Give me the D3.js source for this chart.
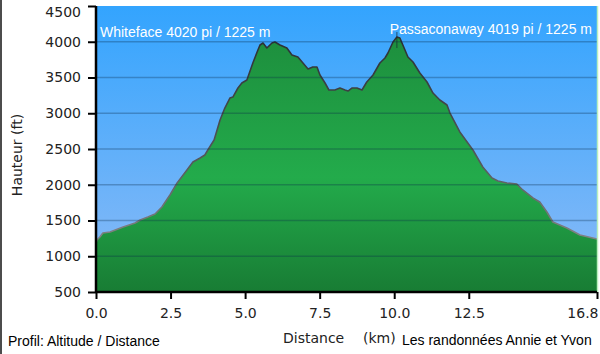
<!DOCTYPE html>
<html>
<head>
<meta charset="utf-8">
<script src="https://cdn.jsdelivr.net/npm/d3@7"></script>
<style>
  html, body { margin: 0; padding: 0; background: #fff; }
  svg { display: block; }
</style>
</head>
<body>
<div id="chart"></div>
<script>
// distance (km) and elevation (ft)
const distKm = [0, 0.03, 0.13, 0.23, 0.47, 0.91, 1.31, 1.48, 1.74, 1.98, 2.21, 2.48, 2.72, 3.05, 3.25, 3.49,
  3.65, 3.75, 3.96, 4.16, 4.32, 4.49, 4.59, 4.76, 4.89, 5.06, 5.26, 5.43, 5.5, 5.6, 5.73, 5.9, 6.0,
  6.17, 6.4, 6.57, 6.77, 6.94, 7.11, 7.27, 7.41, 7.51, 7.68, 7.81, 8.01, 8.18, 8.35, 8.45, 8.58,
  8.75, 8.92, 9.08, 9.29, 9.52, 9.69, 9.79, 9.96, 10.09, 10.19, 10.29, 10.46, 10.63, 10.86, 11.1,
  11.3, 11.53, 11.77, 11.87, 12.2, 12.64, 12.97, 13.28, 13.48, 13.78, 14.11, 14.31, 14.65, 14.88,
  15.12, 15.32, 15.79, 16.23, 16.8];
const elevFt = [1190, 1227, 1269, 1325, 1339, 1409, 1465, 1507, 1549, 1591, 1689, 1857, 2024, 2206, 2318, 2374,
  2416, 2486, 2626, 2906, 3073, 3213, 3227, 3353, 3423, 3465, 3703, 3885, 3955, 3983, 3913, 3983, 3997,
  3955, 3913, 3815, 3787, 3703, 3619, 3647, 3647, 3535, 3423, 3325, 3325, 3353, 3325, 3311, 3353,
  3353, 3325, 3437, 3535, 3703, 3773, 3843, 3997, 4066, 4052, 3955, 3787, 3717, 3563, 3437,
  3283, 3185, 3115, 3003, 2738, 2486, 2248, 2094, 2052, 2024, 2010, 1927, 1815, 1759,
  1619, 1479, 1395, 1297, 1240];

const yTicks = [500, 1000, 1500, 2000, 2500, 3000, 3500, 4000, 4500];
const xTicks = [0, 2.5, 5, 7.5, 10, 12.5, 16.8];

const peakNames = ['Whiteface 4020 pi / 1225 m', 'Passaconaway 4019 pi / 1225 m'];
const peakKm = [6.0, 10.09];

const width = 600, height = 354;
const margin = { top: 6, right: 3, bottom: 62, left: 96 };
const innerW = width - margin.left - margin.right;
const innerH = height - margin.top - margin.bottom;

const x = d3.scaleLinear().domain([0, 16.8]).range([0, innerW]);
const y = d3.scaleLinear().domain([500, 4500]).range([innerH, 0]);

const data = distKm.map((d, i) => ({ km: d, ft: elevFt[i] }));

const svg = d3.select('#chart').append('svg')
  .attr('width', width)
  .attr('height', height);

const defs = svg.append('defs');

// sky
const sky = defs.append('linearGradient').attr('id', 'sky')
  .attr('x1', 0).attr('y1', 0).attr('x2', 0).attr('y2', 1);
sky.append('stop').attr('offset', '0%').attr('stop-color', '#33a4fe');
sky.append('stop').attr('offset', '100%').attr('stop-color', '#8dbbf6');

// ground
const ground = defs.append('linearGradient').attr('id', 'ground')
  .attr('gradientUnits', 'userSpaceOnUse')
  .attr('x1', 0).attr('y1', 0).attr('x2', 0).attr('y2', innerH);
ground.append('stop').attr('offset', '10%').attr('stop-color', '#1d8e3d');
ground.append('stop').attr('offset', '60%').attr('stop-color', '#23ab4b');
ground.append('stop').attr('offset', '100%').attr('stop-color', '#187c34');

const edge = defs.append('linearGradient').attr('id', 'edge')
  .attr('gradientUnits', 'userSpaceOnUse')
  .attr('x1', 0).attr('y1', 0).attr('x2', 0).attr('y2', innerH);
edge.append('stop').attr('offset', '10%').attr('stop-color', '#2a2f33');
edge.append('stop').attr('offset', '55%').attr('stop-color', '#55595c');
edge.append('stop').attr('offset', '100%').attr('stop-color', '#a0a0a0');

// left page border
svg.append('line')
  .attr('x1', 1).attr('x2', 1).attr('y1', 0).attr('y2', height)
  .attr('stroke', '#111').attr('stroke-width', 1.5);

const g = svg.append('g').attr('transform', `translate(${margin.left},${margin.top})`);

g.append('rect')
  .attr('width', innerW).attr('height', innerH)
  .attr('fill', 'url(#sky)');

const area = d3.area()
  .x(d => x(d.km))
  .y0(innerH)
  .y1(d => y(d.ft));

g.append('path')
  .datum(data)
  .attr('d', area)
  .attr('fill', 'url(#ground)');

g.append('path')
  .datum(data)
  .attr('d', d3.line().x(d => x(d.km)).y(d => y(d.ft)))
  .attr('fill', 'none')
  .attr('stroke', 'url(#edge)')
  .attr('stroke-width', 1.6)
  .attr('stroke-linejoin', 'round');

// grid lines over everything
g.selectAll('.grid')
  .data(yTicks.filter(t => t > 500 && t < 4500))
  .enter().append('line')
  .attr('class', 'grid')
  .attr('x1', 0).attr('x2', innerW)
  .attr('y1', d => y(d)).attr('y2', d => y(d))
  .attr('stroke', '#0b2a4a').attr('stroke-opacity', 0.3).attr('stroke-width', 1.5);

// summit marker
g.append('line')
  .attr('x1', x(peakKm[1])).attr('x2', x(peakKm[1]))
  .attr('y1', y(4066) - 5).attr('y2', y(4066) + 11)
  .attr('stroke', '#1a2a30').attr('stroke-opacity', 0.7).attr('stroke-width', 1);

// right edge
g.append('line')
  .attr('x1', innerW + 0.5).attr('x2', innerW + 0.5).attr('y1', 0).attr('y2', innerH)
  .attr('stroke', '#b9f0bd').attr('stroke-width', 1.5);

// axes
const yAxis = d3.axisLeft(y).tickValues(yTicks).tickSize(8).tickPadding(7).tickFormat(d3.format('d'));
const yG = g.append('g').call(yAxis);
const xAxis = d3.axisBottom(x).tickValues(xTicks).tickSize(7).tickPadding(6).tickFormat(d3.format('.1f'));
const xG = g.append('g').attr('transform', `translate(0,${innerH})`).call(xAxis);

[yG, xG].forEach(ax => {
  ax.select('.domain').attr('stroke', '#000').attr('stroke-width', 2.5);
  ax.selectAll('.tick line').attr('stroke', '#000').attr('stroke-width', 2);
  ax.selectAll('.tick text')
    .attr('fill', '#222')
    .style('font-family', '"DejaVu Sans", Verdana, sans-serif')
    .style('font-size', '14px');
});
yG.select('.domain').attr('d', `M0,${innerH}V0`);
xG.select('.domain').attr('d', `M0,0H${innerW}`);
// top label pushed down so it stays inside the picture
yG.selectAll('.tick text').filter(d => d === 4500).attr('dy', '0.75em');
xG.selectAll('.tick text').attr('dy', '0.9em');
xG.selectAll('.tick text').filter(d => d === 16.8).attr('text-anchor', 'end').attr('dx', '1');

// peak labels
const labelFont = 'Liberation Sans, Arial, sans-serif';
g.append('text')
  .attr('x', 4).attr('y', 31)
  .attr('fill', '#fff')
  .style('font-family', labelFont).style('font-size', '14px')
  .text(peakNames[0]);
g.append('text')
  .attr('x', innerW - 5).attr('y', 28)
  .attr('text-anchor', 'end')
  .attr('fill', '#fff')
  .style('font-family', labelFont).style('font-size', '14px')
  .text(peakNames[1]);

// axis titles
svg.append('text')
  .attr('transform', `translate(22,${margin.top + innerH / 2 + 6}) rotate(-90)`)
  .attr('text-anchor', 'middle')
  .attr('fill', '#222')
  .style('font-family', '"DejaVu Sans", Verdana, sans-serif').style('font-size', '14px')
  .text('Hauteur (ft)');

svg.append('text')
  .attr('x', 283).attr('y', 343)
  .attr('fill', '#222')
  .style('font-family', '"DejaVu Sans", Verdana, sans-serif').style('font-size', '14px')
  .text('Distance');
svg.append('text')
  .attr('x', 363).attr('y', 343)
  .attr('fill', '#222')
  .style('font-family', '"DejaVu Sans", Verdana, sans-serif').style('font-size', '14px')
  .text('(km)');

svg.append('text')
  .attr('x', 402).attr('y', 345)
  .attr('fill', '#000')
  .style('font-family', labelFont).style('font-size', '14px')
  .text('Les randonnées Annie et Yvon');

svg.append('text')
  .attr('x', 8).attr('y', 346)
  .attr('fill', '#000')
  .style('font-family', labelFont).style('font-size', '14px')
  .text('Profil: Altitude / Distance');
</script>
</body>
</html>
